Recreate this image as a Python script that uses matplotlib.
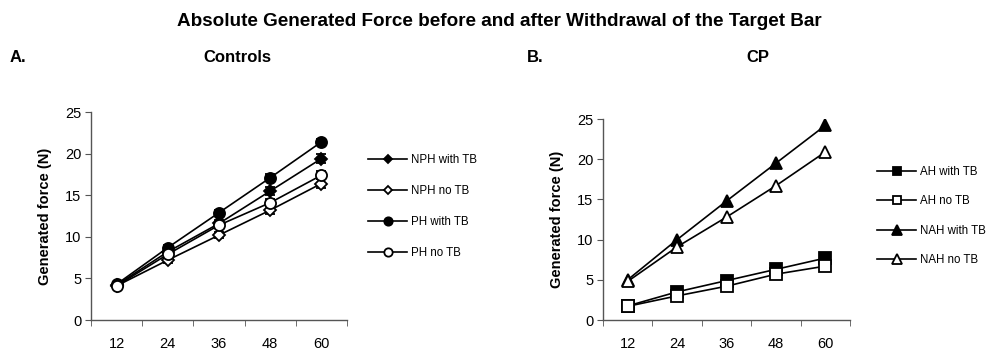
import numpy as np
import matplotlib
matplotlib.use("Agg")
import matplotlib.pyplot as plt
from matplotlib.ticker import FixedLocator

plt.rcParams['font.family'] = ['Liberation Sans', 'DejaVu Sans']

# data
speeds = ['12', '24', '36', '48', '60']

nph_with_tb = [4.2, 8.2, 11.6, 15.5, 19.4]
nph_no_tb = [4.1, 7.2, 10.2, 13.2, 16.4]
ph_with_tb = [4.3, 8.7, 12.9, 17.1, 21.4]
ph_no_tb = [4.1, 7.9, 11.4, 14.1, 17.4]
nph_with_err = [0.2, 0.3, 0.4, 0.5, 0.5]
nph_no_err = [0.2, 0.3, 0.4, 0.5, 0.5]
ph_with_err = [0.2, 0.3, 0.3, 0.4, 0.3]
ph_no_err = [0.2, 0.3, 0.3, 0.4, 0.5]

ah_with_tb = [1.75, 3.5, 4.9, 6.3, 7.7]
ah_no_tb = [1.7, 3.0, 4.2, 5.7, 6.7]
nah_with_tb = [5.0, 10.0, 14.8, 19.5, 24.2]
nah_no_tb = [4.8, 9.1, 12.8, 16.7, 20.9]

fig = plt.figure(figsize=(9.89, 3.53), dpi=100)
W, H = 989.0, 353.0


def axes_px(x0, x1, ytop, ybot):
    return fig.add_axes([x0 / W, 1 - ybot / H, (x1 - x0) / W, (ybot - ytop) / H])


def style_axes(ax):
    x = np.arange(len(speeds))
    ax.set_xlim(-0.5, len(speeds) - 0.5)
    ax.set_ylim(0, 25)
    ax.set_yticks([0, 5, 10, 15, 20, 25])
    ax.set_xticks(x)
    ax.set_xticklabels(speeds)
    ax.xaxis.set_minor_locator(FixedLocator(np.arange(-0.5, len(speeds), 1.0)))
    ax.tick_params(axis='x', which='major', length=0, pad=12, labelsize=10.5)
    ax.tick_params(axis='x', which='minor', length=4, direction='out', color='#555555')
    ax.tick_params(axis='y', length=4, direction='out', color='#555555', labelsize=10.5, pad=3)
    for s in ['top', 'right']:
        ax.spines[s].set_visible(False)
    for s in ['left', 'bottom']:
        ax.spines[s].set_color('#555555')
        ax.spines[s].set_linewidth(1.0)
    ax.set_ylabel('Generated force (N)', fontsize=10.5, fontweight='bold', labelpad=9)
    ax.patch.set_visible(False)


line_kw = dict(color='black', lw=1.2, markeredgecolor='black', markeredgewidth=1.3)
err_kw = dict(ecolor='black', elinewidth=1.0, capsize=3.5, capthick=1.0)

# A. Controls
ax1 = axes_px(91, 347, 112, 320)
x = np.arange(len(speeds))
ax1.errorbar(x, nph_with_tb, yerr=nph_with_err, marker='D', ms=6, mfc='black',
             label='NPH with TB', **line_kw, **err_kw)
ax1.errorbar(x, nph_no_tb, yerr=nph_no_err, marker='D', ms=6, mfc='white',
             label='NPH no TB', **line_kw, **err_kw)
ax1.errorbar(x, ph_with_tb, yerr=ph_with_err, marker='o', ms=8, mfc='black',
             label='PH with TB', **line_kw, **err_kw)
ax1.errorbar(x, ph_no_tb, yerr=ph_no_err, marker='o', ms=8, mfc='white',
             label='PH no TB', **line_kw, **err_kw)
style_axes(ax1)

# B. CP
ax2 = axes_px(603, 850, 119, 320)
ax2.plot(x, ah_with_tb, marker='s', ms=8, mfc='black', label='AH with TB', **line_kw)
ax2.plot(x, ah_no_tb, marker='s', ms=8, mfc='white', label='AH no TB', **line_kw)
ax2.plot(x, nah_with_tb, marker='^', ms=9, mfc='black', label='NAH with TB', **line_kw)
ax2.plot(x, nah_no_tb, marker='^', ms=9, mfc='white', label='NAH no TB', **line_kw)
style_axes(ax2)

leg_kw = dict(frameon=False, fontsize=8.3, handlelength=3.4, handletextpad=0.3,
              borderpad=0, borderaxespad=0, loc='upper left')
h1, l1 = ax1.get_legend_handles_labels()
leg1 = fig.legend([h[0] for h in h1], l1, bbox_to_anchor=(368 / W, 1 - 154 / H),
                  labelspacing=1.65, **leg_kw)
for h in leg1.legend_handles:
    h.set_markersize(h.get_markersize() * 0.75)
h2, l2 = ax2.get_legend_handles_labels()
leg2 = fig.legend(h2, l2, bbox_to_anchor=(877 / W, 1 - 166 / H),
                  labelspacing=1.5, **leg_kw)
for h in leg2.legend_handles:
    h.set_markersize(h.get_markersize() * 0.75)

fig.text(499 / W, 1 - 21 / H, 'Absolute Generated Force before and after Withdrawal of the Target Bar',
         ha='center', va='center', fontsize=13.6, fontweight='bold')
fig.text(10 / W, 1 - 58 / H, 'A.', ha='left', va='center', fontsize=12, fontweight='bold')
fig.text(237 / W, 1 - 58 / H, 'Controls', ha='center', va='center', fontsize=12, fontweight='bold')
fig.text(527 / W, 1 - 58 / H, 'B.', ha='left', va='center', fontsize=12, fontweight='bold')
fig.text(758 / W, 1 - 58 / H, 'CP', ha='center', va='center', fontsize=12, fontweight='bold')

fig.savefig('out.png', dpi=100)
